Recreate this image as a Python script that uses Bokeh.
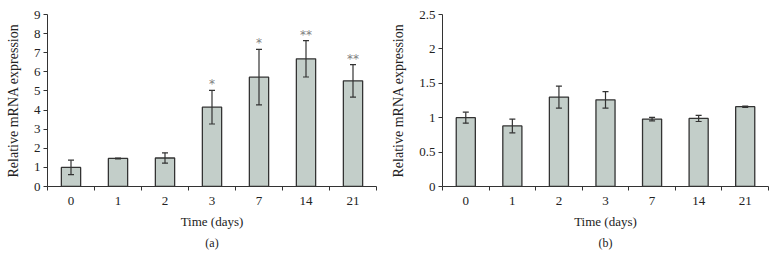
from bokeh.plotting import figure
from bokeh.models import (ColumnDataSource, Whisker, TeeHead, FixedTicker, Range1d,
                          CustomJSTickFormatter, Title)
from bokeh.layouts import row
from bokeh.embed import file_html
from bokeh.resources import INLINE
from bokeh.core.properties import value

categories = ["0", "1", "2", "3", "7", "14", "21"]
values_a = [1.0, 1.47, 1.49, 4.15, 5.72, 6.68, 5.53]
errors_a = [0.38, 0.02, 0.27, 0.88, 1.45, 0.95, 0.85]
stars_a = ["", "", "", "*", "*", "**", "**"]
values_b = [1.0, 0.88, 1.30, 1.26, 0.98, 0.99, 1.16]
errors_b = [0.08, 0.10, 0.16, 0.12, 0.025, 0.045, 0.01]
yticks_a = [0, 1, 2, 3, 4, 5, 6, 7, 8, 9]
yticks_b = [0, 0.5, 1, 1.5, 2, 2.5]

FONT = "Liberation Serif"
BAR = "#c3cec9"
EDGE = "#333333"


def make_panel(vals, errs, yticks, caption, stars=None, left=47, right=12, top=12):
    n = len(categories)
    xs = [i + 0.5 for i in range(n)]
    src = ColumnDataSource(dict(
        x=xs, top=vals,
        upper=[v + e for v, e in zip(vals, errs)],
        lower=[v - e for v, e in zip(vals, errs)],
        stars=stars if stars else [""] * n,
    ))
    p = figure(width=388, height=274, output_backend="svg", toolbar_location=None,
               x_range=Range1d(0, n), y_range=Range1d(yticks[0], yticks[-1]),
               min_border_left=left, min_border_right=right, min_border_top=top,
               min_border_bottom=274 - 186)
    p.outline_line_color = None
    p.grid.visible = False
    p.background_fill_color = "white"
    p.border_fill_color = "white"

    p.vbar(x="x", top="top", bottom=0, width=0.41, source=src,
           fill_color=BAR, line_color=EDGE, line_width=1.3)
    head_u = TeeHead(size=6, line_color=EDGE, line_width=1.2)
    head_l = TeeHead(size=6, line_color=EDGE, line_width=1.2)
    p.add_layout(Whisker(base="x", upper="upper", lower="lower", source=src,
                         line_color=EDGE, line_width=1.2, level="overlay",
                         upper_head=head_u, lower_head=head_l))
    if stars:
        p.text(x="x", y="upper", text="stars", source=src, text_align="center",
               text_baseline="bottom", y_offset=1, text_font=value("DejaVu Sans"),
               text_font_size="12px", text_color="#808080")

    # x axis
    xa = p.xaxis[0]
    xa.ticker = FixedTicker(ticks=xs, minor_ticks=list(range(n + 1)))
    xa.major_label_overrides = {x: c for x, c in zip(xs, categories)}
    xa.major_tick_out = 0
    xa.major_tick_in = 0
    xa.minor_tick_out = 4
    xa.minor_tick_in = 0
    xa.minor_tick_line_color = EDGE
    xa.axis_line_color = EDGE
    xa.major_label_standoff = 6
    xa.major_label_text_font = FONT
    xa.major_label_text_font_size = "13px"
    xa.major_label_text_color = "#222222"
    xa.axis_label = "Time (days)"
    xa.axis_label_text_font = FONT
    xa.axis_label_text_font_size = "13px"
    xa.axis_label_text_font_style = "normal"
    xa.axis_label_text_color = "#222222"
    xa.axis_label_standoff = 6

    # y axis
    ya = p.yaxis[0]
    ya.ticker = FixedTicker(ticks=yticks, minor_ticks=[])
    ya.formatter = CustomJSTickFormatter(code="return String(tick);")
    ya.major_tick_out = 4
    ya.major_tick_in = 0
    ya.major_tick_line_color = EDGE
    ya.axis_line_color = EDGE
    ya.major_label_standoff = 3
    ya.major_label_text_font = FONT
    ya.major_label_text_font_size = "13px"
    ya.major_label_text_color = "#222222"
    ya.axis_label = "Relative mRNA expression"
    ya.axis_label_text_font = FONT
    ya.axis_label_text_font_size = "14px"
    ya.axis_label_text_font_style = "normal"
    ya.axis_label_text_color = "#222222"
    ya.axis_label_standoff = 10

    p.add_layout(Title(text=caption, align="center", text_font=FONT,
                       text_font_size="12px", text_font_style="normal",
                       text_color="#222222", standoff=4), "below")
    return p


pa = make_panel(values_a, errors_a, yticks_a, "(a)", stars=stars_a, left=47, right=12, top=12)
pb = make_panel(values_b, errors_b, yticks_b, "(b)", left=51, right=8, top=14)

layout = row(pa, pb)
open("out.html", "w").write(file_html(layout, INLINE))
